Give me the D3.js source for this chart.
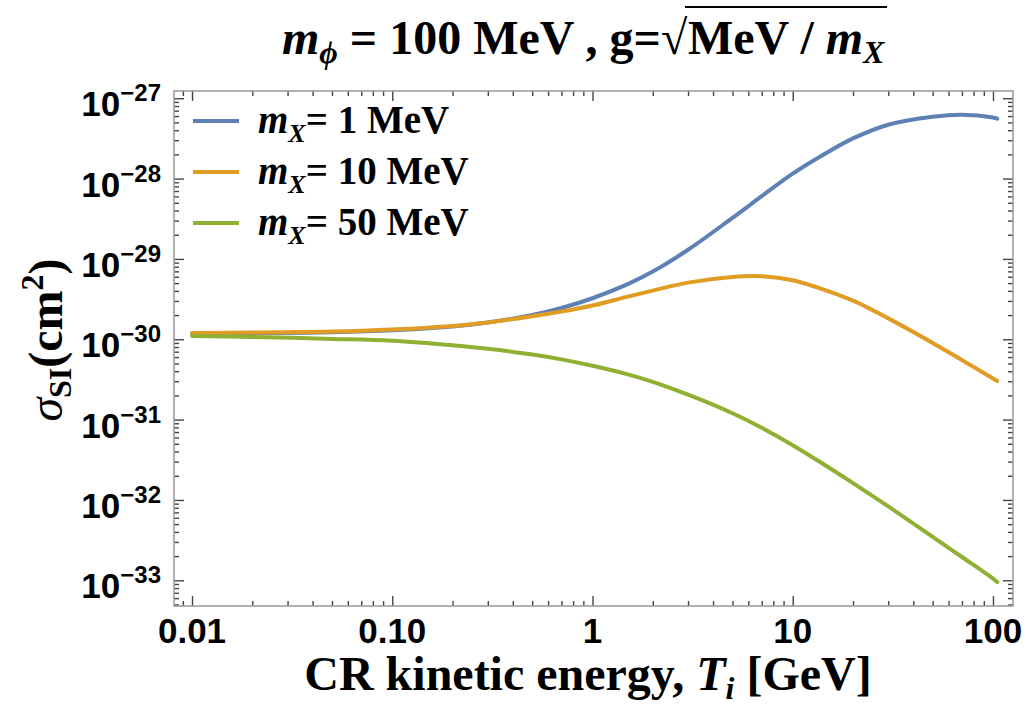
<!DOCTYPE html>
<html>
<head>
<meta charset="utf-8">
<script src="https://cdn.jsdelivr.net/npm/d3@7"></script>
<style>
  body { margin: 0; background: #fff; }
  svg { display: block; }
  .tick-label { font-family: "Liberation Sans", Arial, sans-serif; font-weight: bold; }
  .serif { font-family: "Liberation Serif", "Times New Roman", serif; font-weight: bold; }
</style>
</head>
<body>
<div id="chart"></div>
<script>
// CR kinetic energy T_i [GeV]
const energies = [0.01, 0.02, 0.05, 0.1, 0.2, 0.3, 0.5, 0.7, 1, 1.5, 2, 3, 5, 7, 10, 15, 20, 30, 50, 70, 100, 105];

// sigma_SI (cm^2)
const sigma1 = [1.18e-30, 1.19e-30, 1.22e-30, 1.29e-30, 1.445e-30, 1.62e-30, 2.0e-30, 2.45e-30, 3.24e-30, 4.85e-30, 6.95e-30, 1.30e-29, 3.24e-29, 6.03e-29, 1.15e-28, 2.14e-28, 3.16e-28, 4.68e-28, 5.89e-28, 6.24e-28, 5.75e-28, 5.56e-28];
const sigma10 = [1.2e-30, 1.21e-30, 1.245e-30, 1.32e-30, 1.46e-30, 1.62e-30, 1.93e-30, 2.21e-30, 2.63e-30, 3.39e-30, 4.03e-30, 5.07e-30, 5.96e-30, 6.1e-30, 5.43e-30, 3.98e-30, 3.02e-30, 1.82e-30, 9.0e-31, 5.5e-31, 3.24e-31, 3.02e-31];
const sigma50 = [1.096e-30, 1.07e-30, 1.01e-30, 9.55e-31, 8.4e-31, 7.6e-31, 6.46e-31, 5.62e-31, 4.68e-31, 3.66e-31, 2.95e-31, 2.04e-31, 1.2e-31, 7.9e-32, 4.8e-32, 2.57e-32, 1.62e-32, 8.3e-33, 3.47e-33, 1.95e-33, 1.05e-33, 9.5e-34];

const seriesNames = ["1 MeV", "10 MeV", "50 MeV"];
const seriesColors = ["#5E81B5", "#E19C24", "#8FB032"];

const xTickValues = [0.01, 0.1, 1, 10, 100];
const xTickLabels = ["0.01", "0.10", "1", "10", "100"];
const yTickExponents = [-27, -28, -29, -30, -31, -32, -33];

const width = 1026, height = 711;
const margin = { top: 91, left: 174, right: 13, bottom: 105 };
const innerW = width - margin.left - margin.right,
      innerH = height - margin.top - margin.bottom;

const svg = d3.select("#chart").append("svg")
  .attr("width", width)
  .attr("height", height);

const xScale = d3.scaleLog()
  .domain([Math.pow(10, -2.09), Math.pow(10, 2.1)])
  .range([0, innerW]);

const yScale = d3.scaleLog()
  .domain([Math.pow(10, -33.32), Math.pow(10, -26.91)])
  .range([innerH, 0]);

const g = svg.append("g")
  .attr("transform", "translate(" + margin.left + "," + margin.top + ")");

// minor / major tick values
let xMinor = [], yMinor = [];
for (let e = -3; e <= 2; e++) {
  for (let k = 1; k < 10; k++) {
    let v = k * Math.pow(10, e);
    if (v >= xScale.domain()[0] && v <= xScale.domain()[1]) xMinor.push(v);
  }
}
for (let e = -34; e <= -27; e++) {
  for (let k = 1; k < 10; k++) {
    let v = k * Math.pow(10, e);
    if (v >= yScale.domain()[0] && v <= yScale.domain()[1]) yMinor.push(v);
  }
}
const isMajor = v => Math.abs(Math.log10(v) - Math.round(Math.log10(v))) < 1e-6;

// frame ticks, drawn inward on all four sides
const tickColor = "#444";
function drawTicks(sel, axisFn, values, len) {
  sel.call(axisFn.tickValues(values).tickSize(-len).tickFormat(""))
    .call(a => a.select(".domain").remove())
    .call(a => a.selectAll("line").attr("stroke", tickColor).attr("stroke-width", 1.4));
}
[[d3.axisBottom(xScale), "translate(0," + innerH + ")"], [d3.axisTop(xScale), "translate(0,0)"]].forEach(([ax, tr]) => {
  drawTicks(g.append("g").attr("transform", tr), ax, xMinor.filter(v => !isMajor(v)), 5);
  drawTicks(g.append("g").attr("transform", tr), ax, xMinor.filter(isMajor), 10);
});
[[d3.axisLeft(yScale), "translate(0,0)"], [d3.axisRight(yScale), "translate(" + innerW + ",0)"]].forEach(([ax, tr]) => {
  drawTicks(g.append("g").attr("transform", tr), ax, yMinor.filter(v => !isMajor(v)), 5);
  drawTicks(g.append("g").attr("transform", tr), ax, yMinor.filter(isMajor), 10);
});

// frame
g.append("rect")
  .attr("width", innerW)
  .attr("height", innerH)
  .attr("fill", "none")
  .attr("stroke", "#999")
  .attr("stroke-width", 1.5);

// x tick labels
g.selectAll(".xlab")
  .data(xTickValues)
  .enter().append("text")
  .attr("class", "tick-label")
  .attr("x", d => xScale(d))
  .attr("y", innerH + 37)
  .attr("text-anchor", "middle")
  .style("font-size", "35px")
  .text((d, i) => xTickLabels[i]);

// y tick labels: 10^e
const yLab = g.selectAll(".ylab")
  .data(yTickExponents)
  .enter().append("text")
  .attr("class", "tick-label")
  .attr("x", -13)
  .attr("y", d => yScale(Math.pow(10, d)) + 18)
  .attr("text-anchor", "end")
  .style("font-size", "35px");
yLab.append("tspan").text("10");
yLab.append("tspan").attr("dy", -15).style("font-size", "24px").text(d => "\u2212" + Math.abs(d));

// curves
const allSeries = [sigma1, sigma10, sigma50];
const line = d3.line()
  .x(d => xScale(d[0]))
  .y(d => yScale(d[1]))
  .curve(d3.curveCatmullRom.alpha(0.5));

allSeries.forEach((s, i) => {
  g.append("path")
    .datum(energies.map((e, j) => [e, s[j]]))
    .attr("fill", "none")
    .attr("stroke", seriesColors[i])
    .attr("stroke-width", 4)
    .attr("stroke-linecap", "round")
    .attr("d", line);
});

// legend
const legend = svg.append("g").attr("transform", "translate(193,121)");
seriesNames.forEach((name, i) => {
  const row = legend.append("g").attr("transform", "translate(0," + (i * 51) + ")");
  row.append("line")
    .attr("x1", 0).attr("x2", 46)
    .attr("stroke", seriesColors[i])
    .attr("stroke-width", 4);
  const t = row.append("text")
    .attr("class", "serif")
    .attr("x", 65)
    .attr("y", 12)
    .style("font-size", "39px");
  t.append("tspan").style("font-style", "italic").text("m");
  t.append("tspan").attr("dy", 9).style("font-style", "italic").style("font-size", "26px").text("X");
  t.append("tspan").attr("dy", -9).text("= " + name);
});

// x axis title
const xt = svg.append("text")
  .attr("class", "serif")
  .attr("x", 588)
  .attr("y", 690)
  .attr("text-anchor", "middle")
  .style("font-size", "48px");
xt.append("tspan").text("CR kinetic energy, ");
xt.append("tspan").style("font-style", "italic").text("T");
xt.append("tspan").attr("dy", 9).style("font-style", "italic").style("font-size", "32px").text("i");
xt.append("tspan").attr("dy", -9).text(" [GeV]");

// y axis title
const yt = svg.append("text")
  .attr("class", "serif")
  .attr("transform", "translate(62,340) rotate(-90)")
  .attr("text-anchor", "middle")
  .style("font-size", "48px");
yt.append("tspan").style("font-style", "italic").style("font-weight", "normal").text("\u03C3");
yt.append("tspan").attr("dy", 9).style("font-size", "32px").text("SI");
yt.append("tspan").attr("dy", -9).text("(cm");
yt.append("tspan").attr("dy", -19).style("font-size", "32px").text("2");
yt.append("tspan").attr("dy", 19).text(")");

// title: m_phi = 100 MeV , g = sqrt(MeV / m_X)
const title = svg.append("g");
const t1 = title.append("text")
  .attr("class", "serif")
  .attr("x", 282)
  .attr("y", 54)
  .style("font-size", "48px");
t1.append("tspan").style("font-style", "italic").text("m");
t1.append("tspan").attr("dy", 9).style("font-style", "italic").style("font-size", "32px").text("\u03D5");
t1.append("tspan").attr("dy", -9).text(" = 100 MeV , g=\u221A");
const w1 = t1.node().getBBox();
const t2 = title.append("text")
  .attr("class", "serif")
  .attr("x", w1.x + w1.width)
  .attr("y", 54)
  .style("font-size", "48px");
t2.append("tspan").text("MeV / ");
t2.append("tspan").style("font-style", "italic").text("m");
t2.append("tspan").attr("dy", 9).style("font-style", "italic").style("font-size", "32px").text("X");
const w2 = t2.node().getBBox();
title.append("line")
  .attr("x1", w1.x + w1.width - 3)
  .attr("x2", w2.x + w2.width + 2)
  .attr("y1", 7).attr("y2", 7)
  .attr("stroke", "#000")
  .attr("stroke-width", 2);
</script>
</body>
</html>
